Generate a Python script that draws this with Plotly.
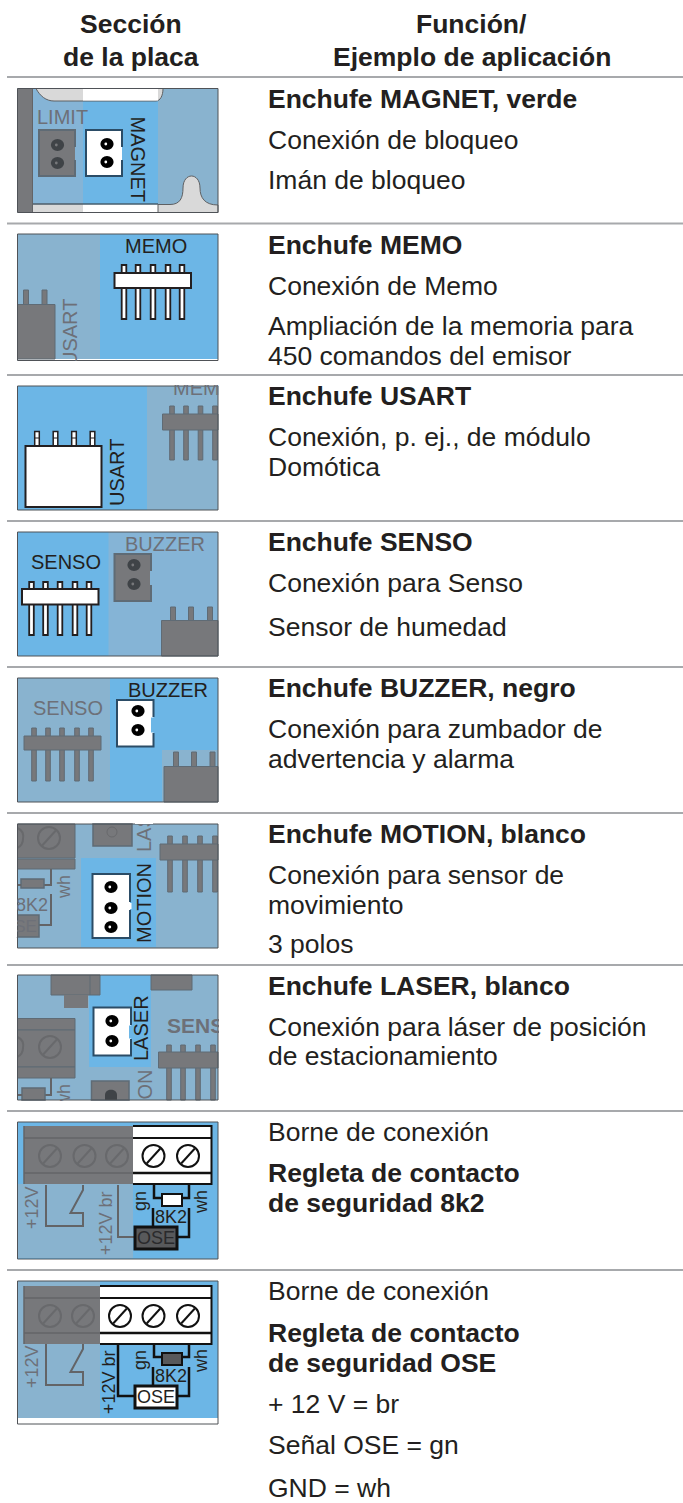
import plotly.graph_objects as go

# ---- table content ----
HEADER_LEFT = ["Sección", "de la placa"]
HEADER_RIGHT = ["Función/", "Ejemplo de aplicación"]
ROW_TEXTS = [
    [("Enchufe MAGNET, verde", 1), ("Conexión de bloqueo", 0), ("Imán de bloqueo", 0)],
    [("Enchufe MEMO", 1), ("Conexión de Memo", 0), ("Ampliación de la memoria para", 0), ("450 comandos del emisor", 0)],
    [("Enchufe USART", 1), ("Conexión, p. ej., de módulo", 0), ("Domótica", 0)],
    [("Enchufe SENSO", 1), ("Conexión para Senso", 0), ("Sensor de humedad", 0)],
    [("Enchufe BUZZER, negro", 1), ("Conexión para zumbador de", 0), ("advertencia y alarma", 0)],
    [("Enchufe MOTION, blanco", 1), ("Conexión para sensor de", 0), ("movimiento", 0), ("3 polos", 0)],
    [("Enchufe LASER, blanco", 1), ("Conexión para láser de posición", 0), ("de estacionamiento", 0)],
    [("Borne de conexión", 0), ("Regleta de contacto", 1), ("de seguridad 8k2", 1)],
    [("Borne de conexión", 0), ("Regleta de contacto", 1), ("de seguridad OSE", 1), ("+ 12 V = br", 0), ("Señal OSE = gn", 0), ("GND = wh", 0)],
]
ROW_BASELINES = [
    [108, 149, 189],
    [254, 295, 335, 365],
    [405, 446, 476],
    [551, 592, 636],
    [697, 738, 768],
    [843, 884, 914, 953],
    [995, 1036, 1065],
    [1141.5, 1182, 1212],
    [1300, 1342.5, 1372, 1413, 1454, 1497],
]
RULES = [77, 223.5, 375, 521, 667, 813, 965, 1111, 1270]

INK = "#231F20"
BLUE = "#6CB6E6"
GBLUE = "#89B3CF"
LBLUE = "#85B4D6"
GRAY = "#77787B"
GTXT = "#6D7078"
LGRAY = "#D9D9D9"
EDGE = "#4F5257"
GEDGE = "#5F6B75"
WHITE = "#FFFFFF"
RULE = "#A7A9AC"
FONT = "Liberation Sans"

shapes, notes = [], []


def rect(x0, y0, x1, y1, fill=None, line=None, lw=1):
    shapes.append(dict(type="rect", x0=x0, y0=y0, x1=x1, y1=y1, fillcolor=fill or "rgba(0,0,0,0)",
                       line=dict(color=line or "rgba(0,0,0,0)", width=lw if line else 0)))


def poly(pts, color=INK, lw=2):
    d = "M" + " L".join(f"{x},{y}" for x, y in pts)
    shapes.append(dict(type="path", path=d, line=dict(color=color, width=lw), fillcolor="rgba(0,0,0,0)"))


def path(d, fill=None, line=None, lw=1):
    shapes.append(dict(type="path", path=d, fillcolor=fill or "rgba(0,0,0,0)",
                       line=dict(color=line or "rgba(0,0,0,0)", width=lw if line else 0)))


def circ(cx, cy, r, fill=None, line=None, lw=1, ry=None):
    ry = r if ry is None else ry
    shapes.append(dict(type="circle", x0=cx - r, x1=cx + r, y0=cy - ry, y1=cy + ry, fillcolor=fill or "rgba(0,0,0,0)",
                       line=dict(color=line or "rgba(0,0,0,0)", width=lw if line else 0)))


def text(x, y, s, size=20, color=INK, angle=0, anchor="center", bold=False):
    notes.append(dict(x=x, y=y, text=f"<b>{s}</b>" if bold else s, showarrow=False, xanchor=anchor, yanchor="middle",
                      textangle=angle, font=dict(family=FONT, size=size, color=color), borderpad=0, borderwidth=0))


def cover(x0, y0, x1, y1, color=WHITE):
    notes.append(dict(x=(x0 + x1) / 2, y=(y0 + y1) / 2, text=" ", showarrow=False, xanchor="center", yanchor="middle",
                      width=x1 - x0, height=y1 - y0, bgcolor=color, borderpad=0, borderwidth=0,
                      font=dict(size=1, color=color)))


def header_pins(x0, x1, y0, y1, pins, p0, p1, fill=WHITE, line=INK):
    for p in pins:
        rect(p - 2.3, p0, p + 2.3, p1, fill if fill == WHITE else GRAY, line, 1.8 if fill == WHITE else 1)
    rect(x0, y0, x1, y1, fill, line, 2 if fill == WHITE else 1)


def block(x0, x1, y0, y1, pins, p0):
    for p in pins:
        rect(p - 2.5, p0, p + 2.5, y0, GRAY, GEDGE, 1)
    rect(x0, y0, x1, y1, GRAY, GEDGE, 1)


def connector(x0, y0, x1, y1, dots, notch, active=True):
    fill = WHITE if active else GRAY
    ln = "#2B4C66" if active else GEDGE
    rect(x0, y0, x1, y1, fill, None)
    poly([(x1, notch[0]), (x1, y0), (x0, y0), (x0, y1), (x1, y1), (x1, notch[1])], ln, 2)
    for cx, cy in dots:
        circ(cx, cy, 6.6, "#000000" if active else "#3F4347", None, ry=6)
        circ(cx - 1.2, cy, 1.4, WHITE if active else GRAY, None)


def screw(cx, cy, r=11, active=False):
    c = "#111111" if active else "#68696C"
    circ(cx, cy, r, WHITE if active else GRAY, c, 2)
    poly([(cx - r * 0.62, cy + r * 0.68), (cx + r * 0.62, cy - r * 0.68)], c, 2)


def terminal(dy, split, gray_screws, black_screws):
    y0 = 1126 + dy
    rect(split, y0, 212, 1184 + dy, WHITE, None)
    poly([(split, y0), (211.5, y0), (211.5, 1184 + dy), (split, 1184 + dy)], "#111111", 2)
    poly([(split, 1138 + dy), (211.5, 1138 + dy)], "#111111", 2)
    poly([(split, 1173 + dy), (211.5, 1173 + dy)], "#111111", 2.5)
    rect(24, y0, split, 1184 + dy, GRAY, None)
    poly([(24, 1138 + dy), (split, 1138 + dy)], "#636467", 1.5)
    poly([(24, 1173 + dy), (split, 1173 + dy)], "#636467", 1.5)
    poly([(24, 1126 + dy), (24, 1184 + dy)], "#636467", 1.5)
    for x in gray_screws:
        screw(x, 1156 + dy, 11)
    for x in black_screws:
        screw(x, 1156 + dy, 11, True)


def wiring(dy, ose_active):
    # switch contact (always dimmed)
    poly([(46, 1185 + dy), (46, 1226 + dy), (83, 1226 + dy), (83, 1213 + dy), (70.5, 1213 + dy), (83, 1190 + dy), (83, 1185 + dy)], "#636467", 2)
    # resistor wires
    poly([(154, 1185 + dy), (154, 1198 + dy), (162, 1198 + dy)], "#111111", 2.5)
    poly([(182, 1198 + dy), (189, 1198 + dy), (189, 1185 + dy)], "#111111", 2.5)
    poly([(153, 1208 + dy), (153, 1227 + dy)], "#111111", 2.5)
    poly([(189, 1208 + dy), (189, 1237 + dy), (178, 1237 + dy)], "#111111", 2.5)
    if ose_active:
        poly([(118, 1185 + dy), (118, 1237 + dy), (134, 1237 + dy)], "#111111", 2.5)
        rect(162, 1194 + dy, 182, 1206 + dy, "#58595B", "#111111", 2)
        rect(135, 1227 + dy, 177, 1249 + dy, WHITE, "#111111", 3)
    else:
        poly([(118, 1185 + dy), (118, 1237 + dy), (134, 1237 + dy)], "#636467", 2)
        rect(162, 1194 + dy, 182, 1206 + dy, WHITE, "#111111", 2)
        rect(135, 1227 + dy, 177, 1249 + dy, "#58595B", "#111111", 3)


L, R = 17.5, 218

# ---------- rules ----------
for y in RULES:
    rect(7, y - 1, 683, y + 1, RULE, None)

# ---------- panel 1: MAGNET ----------
rect(L, 88.5, R, 212.5, GBLUE)
rect(32.5, 88.5, 83, 212.5, LBLUE)
rect(83, 88.5, 158, 212.5, BLUE)
path("M36,88.5 C40,96 46,101 54,101 L156,101 C160,101 163,96 163,88.5 Z", LGRAY, "#5F6062", 1)
rect(83, 89, 158, 100.5, WHITE)
rect(32.5, 204.5, 83, 212.5, LGRAY)
rect(83, 204.5, 158, 212.5, WHITE)
path("M158,212.5 L158,204.5 L170,204.5 C180,204.5 183,198 183,188 C183,172 200,172 200,188 C200,198 205,205 218,205 L218,212.5 Z", LGRAY, "#5F6062", 1)
poly([(33, 204), (158, 204)], "#333333", 1)
rect(L, 88.5, 32.5, 212.5, GRAY)
poly([(32.5, 88.5), (32.5, 212.5)], "#636467", 1)
connector(39, 130, 75, 176, [(57.5, 145), (57.5, 163)], (147, 160), False)
connector(86, 130, 122, 176, [(107, 144), (107, 162)], (147, 160), True)
text(62, 117, "LIMIT", 20, GTXT)
text(137.5, 159, "MAGNET", 20, INK, 90)

# ---------- panel 2: MEMO ----------
rect(L, 234, R, 360.5, BLUE)
rect(L, 234, 100, 359, GBLUE)
rect(L, 359, R, 360.5, WHITE)
block(L, 55, 304.5, 359, [26, 44.5], 290)
header_pins(114.5, 191, 273, 288, [124, 138, 153, 168, 182], 265, 319)
text(156, 246, "MEMO", 20)
text(70, 333, "USART", 20, GTXT, -90)
cover(60, 361.5, 80, 372)

# ---------- panel 3: USART ----------
rect(L, 386, R, 510, BLUE)
rect(147, 386, R, 510, GBLUE)
header_pins(162.5, 218, 414, 430, [172, 186, 200.5, 215], 406, 460, GRAY, GEDGE)
for p in [37, 55.5, 74, 92.5]:
    rect(p - 2.3, 431.5, p + 2.3, 447, WHITE, INK, 1.5)
    poly([(p - 2.3, 438), (p + 2.3, 438)], INK, 1)
rect(25.5, 446, 101.5, 507, WHITE, INK, 2)
text(117, 473, "USART", 20, INK, -90)
text(173, 388, "MEMO", 20, GTXT, 0, "left")
cover(165, 376.5, 245, 385)
cover(219, 380, 245, 400)

# ---------- panel 4: SENSO ----------
rect(L, 532, R, 656, LBLUE)
rect(L, 532, 108.5, 656, BLUE)
header_pins(22, 98.5, 589, 604.5, [31.5, 45.5, 60, 75, 89], 582, 635)
connector(114.5, 554, 151, 601, [(134, 565), (134, 584)], (571, 585), False)
rect(150, 571, 152, 585, LBLUE)
block(161.5, R, 620.5, 656, [173, 191, 210], 607)
text(65.5, 561.5, "SENSO", 20)
text(165, 544, "BUZZER", 20, GTXT)

# ---------- panel 5: BUZZER ----------
rect(L, 678, R, 802, BLUE)
rect(L, 678, 110, 802, GBLUE)
rect(162, 750, R, 802, GBLUE)
header_pins(24, 101, 736, 750, [34, 48, 62, 77, 91], 728, 781, GRAY, GEDGE)
block(164, R, 766.5, 802, [176, 194, 212.5], 752)
connector(117, 700, 153.5, 746.5, [(138, 711), (138, 730)], (717, 733), True)
rect(151, 717.5, 155, 732.5, BLUE)
rect(147, 717.5, 151, 732.5, WHITE)
text(68, 708, "SENSO", 20, GTXT)
text(168, 690, "BUZZER", 20)

# ---------- panel 6: MOTION ----------
rect(L, 824, R, 948, GBLUE)
rect(81, 858, 156, 947, BLUE)
rect(L, 824, 75, 858, GRAY, GEDGE, 1)
rect(L, 859, 75, 869, GRAY, GEDGE, 1)
screw(49, 838, 11)
path("M17.5,828 C22,830 24,834 23,839 C23,843 21,846 17.5,848", None, "#68696C", 2)
rect(93, 824, 132, 846, GRAY, GEDGE, 1.5)
circ(112, 832, 5, None, "#68696C", 1)
poly([(44, 885), (51, 885), (51, 869)], "#636467", 2)
rect(21, 879, 44, 888, GRAY, GEDGE, 1.5)
poly([(17.5, 885), (21, 885)], "#636467", 2)
poly([(39, 925), (51, 925), (51, 894)], "#636467", 2)
rect(L, 915, 39, 937, GRAY, GEDGE, 1.5)
header_pins(160, 218, 844, 860, [170, 185, 200, 215], 836, 892, GRAY, GEDGE)
connector(92.5, 874, 130, 938, [(111, 887), (111, 908), (111, 927)], (902, 910), True)
rect(127, 903, 131.5, 909, WHITE)
text(144, 903, "MOTION", 20, INK, -90)
text(144, 833, "LAS", 20, GTXT, -90)
text(64, 887, "wh", 18, GTXT, -90)
text(48, 905, "8K2", 18, GTXT, 0, "right")
text(37, 926, "OSE", 17, GTXT, 0, "right")
cover(135, 814.5, 153, 823.5)
cover(0, 895, 17, 937)

# ---------- panel 7: LASER ----------
rect(L, 975, R, 1100, GBLUE)
rect(89, 975, 151, 1067, BLUE)
rect(51, 975, 100, 995, GRAY, GEDGE, 1)
poly([(90, 975), (90, 995)], GEDGE, 1)
rect(64, 995, 88, 1008, GRAY)
rect(151, 975, 192, 990, GRAY, GEDGE, 1)
rect(L, 1018.5, 75, 1030, GRAY, GEDGE, 1)
rect(L, 1030, 75, 1067, GRAY, GEDGE, 1)
rect(L, 1067, 75, 1078, GRAY, GEDGE, 1)
screw(50, 1047, 11)
path("M17.5,1037 C22,1039 24,1043 23,1048 C23,1052 21,1055 17.5,1057", None, "#68696C", 2)
poly([(51, 1078), (51, 1095), (44, 1095)], "#636467", 2)
rect(22, 1088, 45, 1100, GRAY, GEDGE, 1.5)
poly([(17.5, 1095), (22, 1095)], "#636467", 2)
rect(91.5, 1081, 129, 1100, GRAY, GEDGE, 1.5)
path("M105,1100 L105,1095 C105,1088 117,1088 117,1095 L117,1100 Z", "#3F4347")
header_pins(158.5, 218, 1052, 1068, [169, 183, 198, 213], 1045, 1100, GRAY, GEDGE)
connector(93.5, 1007.5, 131, 1055.5, [(112, 1021), (112, 1041)], (1025, 1039), True)
rect(129, 1025.5, 133, 1038.5, BLUE)
rect(126, 1025.5, 129, 1038.5, WHITE)
text(141, 1028, "LASER", 20, INK, -90)
text(144.5, 1085, "ON", 20, GTXT, -90)
text(64, 1096, "wh", 18, GTXT, -90)
text(167, 1025, "SENSO", 21, GTXT, 0, "left", True)
cover(219, 1010, 250, 1040)
cover(55, 1101, 75, 1110)

# ---------- panel 8: 8k2 ----------
rect(L, 1122, R, 1259, BLUE)
rect(L, 1184, 133, 1258, GBLUE)
wiring(0, False)
terminal(0, 133, [50, 84.5, 117], [153.5, 188])
text(32, 1208, "+12V", 18, GTXT, -90)
text(106, 1223, "+12V br", 18, GTXT, -90)
text(140, 1201, "gn", 18, INK, -90)
text(201, 1202, "wh", 18, INK, -90)
text(171, 1217, "8K2", 18)
text(156, 1238, "OSE", 18, "#2A2A2C")

# ---------- panel 9: OSE ----------
rect(L, 1281, R, 1424, BLUE)
rect(L, 1281, 100, 1418, GBLUE)
rect(L, 1418, R, 1424, WHITE)
wiring(159, True)
terminal(160, 100, [50, 83], [120, 153.5, 188])
text(32, 1367, "+12V", 18, GTXT, -90)
text(109, 1382, "+12V br", 18, INK, -90)
text(140, 1360, "gn", 18, INK, -90)
text(201, 1361, "wh", 18, INK, -90)
text(171, 1376, "8K2", 18)
text(156, 1397, "OSE", 18)

# ---------- panel outlines ----------
PANEL_BOXES = [(88.5, 212.5), (234, 360.5), (386, 510), (532, 656), (678, 802), (824, 948), (975, 1100), (1122, 1259), (1281, 1424)]
for y0, y1 in PANEL_BOXES:
    rect(L, y0, R, y1, None, EDGE, 1)

# ---------- text columns ----------
SIZE = 26.5
DY = 9.2


def line(x, base, s, bold=False, anchor="left"):
    text(x, base - DY, s, SIZE, INK, 0, anchor, bold)


line(131, 33.5, HEADER_LEFT[0], True, "center")
line(131, 66, HEADER_LEFT[1], True, "center")
line(471, 33.5, HEADER_RIGHT[0], True, "center")
line(472, 66, HEADER_RIGHT[1], True, "center")
for row, bases in zip(ROW_TEXTS, ROW_BASELINES):
    for (s, b), base in zip(row, bases):
        line(268, base, s, bool(b))

fig = go.Figure()
fig.update_layout(
    width=683, height=1503, margin=dict(l=0, r=0, t=0, b=0),
    paper_bgcolor="white", plot_bgcolor="white", showlegend=False,
    xaxis=dict(range=[0, 683], visible=False, fixedrange=True),
    yaxis=dict(range=[1503, 0], visible=False, fixedrange=True),
    shapes=shapes, annotations=notes,
)
for a in fig.layout.annotations:
    a.xref = "x"
    a.yref = "y"
fig.write_html("out.html", post_script="document.body.style.margin='0';", config={"displayModeBar": False})
